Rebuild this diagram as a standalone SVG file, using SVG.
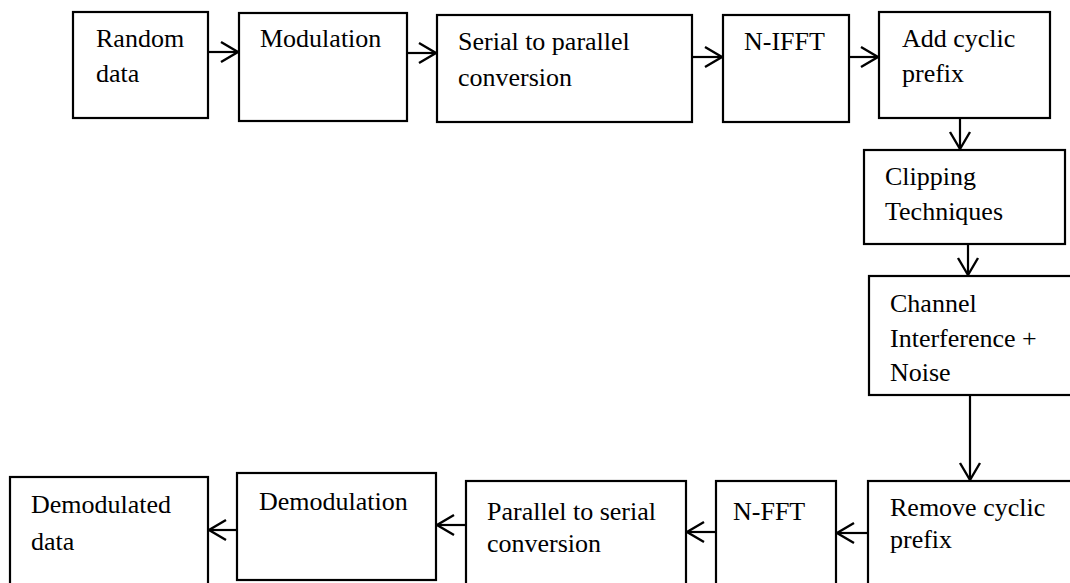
<svg xmlns="http://www.w3.org/2000/svg" width="1070" height="583" viewBox="0 0 1070 583">
<defs>
<style>
.box{fill:#fff;stroke:#000;stroke-width:2.2}
.t{font-family:"Liberation Serif","Times New Roman",serif;font-size:26px;fill:#000}
.c{fill:none;stroke:#000;stroke-width:2.2}
</style>
<marker id="ah" viewBox="0 0 22 24" refX="19" refY="12" markerWidth="22" markerHeight="24" markerUnits="userSpaceOnUse" orient="auto">
<path d="M2,2 L19,12 L2,22" fill="none" stroke="#000" stroke-width="2.4"/>
</marker>
</defs>
<rect width="1070" height="583" fill="#fff"/>
<g id="connectors">
<line class="c" x1="208" y1="52" x2="238" y2="52" marker-end="url(#ah)"/>
<line class="c" x1="407" y1="53" x2="436" y2="53" marker-end="url(#ah)"/>
<line class="c" x1="692" y1="57" x2="722" y2="57" marker-end="url(#ah)"/>
<line class="c" x1="849" y1="57" x2="878" y2="57" marker-end="url(#ah)"/>
<line class="c" x1="960" y1="118" x2="960" y2="149" marker-end="url(#ah)"/>
<line class="c" x1="968" y1="244" x2="968" y2="275" marker-end="url(#ah)"/>
<line class="c" x1="970" y1="395" x2="970" y2="480" marker-end="url(#ah)"/>
<line class="c" x1="868" y1="533" x2="837" y2="533" marker-end="url(#ah)"/>
<line class="c" x1="716" y1="532" x2="687" y2="532" marker-end="url(#ah)"/>
<line class="c" x1="466" y1="525" x2="437" y2="525" marker-end="url(#ah)"/>
<line class="c" x1="237" y1="530" x2="209" y2="530" marker-end="url(#ah)"/>
</g>
<g id="random-data">
<rect class="box" x="73" y="12" width="135" height="106"/>
<text class="t" x="96" y="47">Random</text>
<text class="t" x="96" y="82">data</text>
</g>
<g id="modulation">
<rect class="box" x="239" y="13" width="168" height="108"/>
<text class="t" x="260" y="47">Modulation</text>
</g>
<g id="serial-to-parallel">
<rect class="box" x="437" y="15" width="255" height="107"/>
<text class="t" x="458" y="50">Serial to parallel</text>
<text class="t" x="458" y="86">conversion</text>
</g>
<g id="n-ifft">
<rect class="box" x="723" y="15" width="126" height="107"/>
<text class="t" x="744" y="50">N-IFFT</text>
</g>
<g id="add-cyclic-prefix">
<rect class="box" x="879" y="12" width="171" height="106"/>
<text class="t" x="902" y="47">Add cyclic</text>
<text class="t" x="902" y="82">prefix</text>
</g>
<g id="clipping">
<rect class="box" x="864" y="150" width="201" height="94"/>
<text class="t" x="885" y="185">Clipping</text>
<text class="t" x="885" y="220">Techniques</text>
</g>
<g id="channel">
<rect class="box" x="869" y="276" width="210" height="119"/>
<text class="t" x="890" y="312">Channel</text>
<text class="t" x="890" y="347">Interference +</text>
<text class="t" x="890" y="381">Noise</text>
</g>
<g id="remove-cyclic-prefix">
<rect class="box" x="868" y="481" width="210" height="110"/>
<text class="t" x="890" y="516">Remove cyclic</text>
<text class="t" x="890" y="548">prefix</text>
</g>
<g id="n-fft">
<rect class="box" x="716" y="481" width="120" height="110"/>
<text class="t" x="733" y="520">N-FFT</text>
</g>
<g id="parallel-to-serial">
<rect class="box" x="466" y="481" width="220" height="110"/>
<text class="t" x="487" y="520">Parallel to serial</text>
<text class="t" x="487" y="552">conversion</text>
</g>
<g id="demodulation">
<rect class="box" x="237" y="473" width="199" height="107"/>
<text class="t" x="259" y="510">Demodulation</text>
</g>
<g id="demodulated-data">
<rect class="box" x="10" y="477" width="198" height="114"/>
<text class="t" x="31" y="513">Demodulated</text>
<text class="t" x="31" y="550">data</text>
</g>
</svg>
